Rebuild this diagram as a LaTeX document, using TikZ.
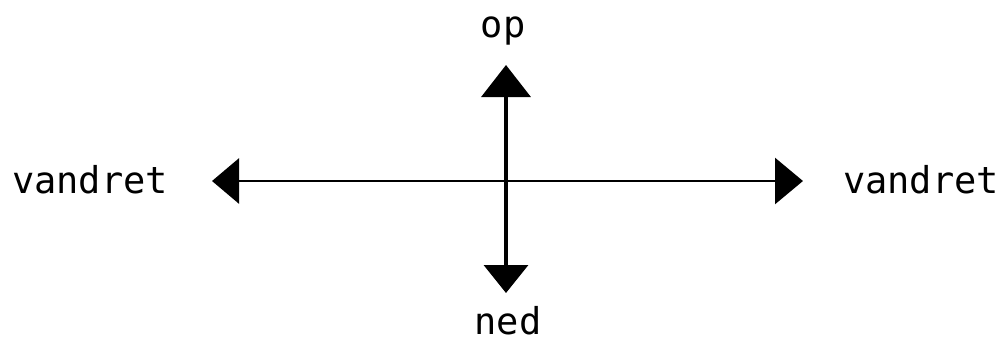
\documentclass[tikz,border=0pt]{standalone}
\usepackage{fontspec}
\setmonofont{DejaVu Sans Mono}
\usetikzlibrary{arrows.meta}
\tikzset{
  lbl/.style={font=\ttfamily\fontsize{37}{40}\selectfont, anchor=base, inner sep=0pt},
  hax/.style={line width=2.8pt, {Triangle[length=27pt,width=45pt]}-{Triangle[length=28pt,width=46pt]}},
  vax/.style={line width=3.6pt, {Triangle[length=32pt,width=49pt]}-{Triangle[length=28pt,width=44pt]}},
}
\begin{document}
\begin{tikzpicture}[x=1pt,y=-1pt]
\useasboundingbox (0,0) rectangle (1005,343);
\node[lbl] (op) at (503,37) {op};
\node[lbl] (ned) at (508,334) {ned};
\node[lbl] (vl) at (90,193) {vandret};
\node[lbl] (vr) at (921,193) {vandret};
\coordinate (L) at (212,181);
\coordinate (R) at (803,181);
\coordinate (U) at (506,65);
\coordinate (D) at (506,293);
\draw[hax] (L) -- (R);
\draw[vax] (U) -- (D);
\end{tikzpicture}
\end{document}
